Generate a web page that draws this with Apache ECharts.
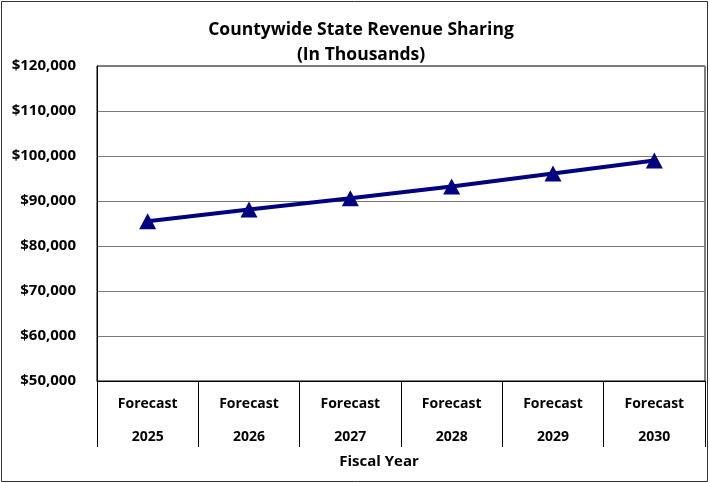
<!DOCTYPE html>
<html>
<head>
<meta charset="utf-8">
<script src="https://cdn.jsdelivr.net/npm/echarts@6/dist/echarts.min.js"></script>
<style>html,body{margin:0;padding:0;background:#fff}#c{width:710px;height:483px}</style>
</head>
<body>
<div id="c"></div>
<script>
var categories = ['2025', '2026', '2027', '2028', '2029', '2030'];
var categoryPrefix = 'Forecast';
var revenue = [85500, 88100, 90600, 93200, 96100, 99000];
var yTicks = [50000, 60000, 70000, 80000, 90000, 100000, 110000, 120000];
var titleLines = ['Countywide State Revenue Sharing', '(In Thousands)'];
var xAxisTitle = 'Fiscal Year';

var FONT = '"Open Sans", sans-serif';
var chart = echarts.init(document.getElementById('c'), null, {renderer: 'canvas'});
chart.setOption({
  backgroundColor: '#fff',
  animation: false,
  graphic: [
    {type: 'rect', shape: {x: 1.5, y: 1.5, width: 706, height: 480}, style: {fill: 'none', stroke: '#333', lineWidth: 1}, z: -1},
    {type: 'text', x: 361, y: 30, style: {text: titleLines[0], fontFamily: FONT, fontWeight: 'bold', fontSize: 17.5, fill: '#000', align: 'center', verticalAlign: 'middle'}},
    {type: 'text', x: 361, y: 55, style: {text: titleLines[1], fontFamily: FONT, fontWeight: 'bold', fontSize: 17.5, fill: '#000', align: 'center', verticalAlign: 'middle'}},
    {type: 'text', x: 379, y: 462, style: {text: xAxisTitle, fontFamily: FONT, fontWeight: 'bold', fontSize: 15, fill: '#000', align: 'center', verticalAlign: 'middle'}}
  ],
  grid: {left: 97, right: 5, top: 66, bottom: 102, show: true, borderColor: '#000', borderWidth: 1},
  xAxis: {
    type: 'category',
    data: categories,
    boundaryGap: true,
    axisLine: {show: true, lineStyle: {color: '#000', width: 1}},
    axisTick: {show: true, interval: 0, length: 66, alignWithLabel: false, lineStyle: {color: '#000'}},
    axisLabel: {
      interval: 0, margin: 7,
      formatter: function (v) { return categoryPrefix + '\n' + v; },
      fontFamily: FONT, fontWeight: 'bold', fontSize: 14, lineHeight: 33, color: '#000'
    },
    splitLine: {show: false}
  },
  yAxis: {
    type: 'value',
    min: yTicks[0], max: yTicks[yTicks.length - 1], interval: yTicks[1] - yTicks[0],
    axisLine: {show: true, lineStyle: {color: '#000'}},
    axisTick: {show: false},
    axisLabel: {
      margin: 21,
      formatter: function (v) { return '$' + v.toLocaleString('en-US'); },
      fontFamily: FONT, fontWeight: 'bold', fontSize: 15, color: '#000'
    },
    splitLine: {show: true, lineStyle: {color: '#777', width: 1}}
  },
  series: [{
    type: 'line',
    data: revenue,
    symbol: 'triangle',
    symbolSize: [17, 16],
    lineStyle: {color: '#000080', width: 4},
    itemStyle: {color: '#000080'}
  }]
});
</script>
</body>
</html>
